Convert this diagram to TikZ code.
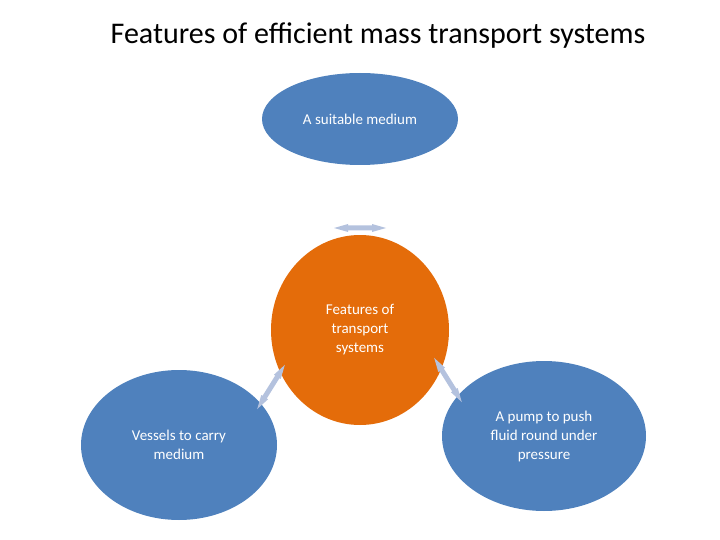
\documentclass[tikz,border=0pt]{standalone}
\usepackage{fontspec}
\setmainfont{Carlito}
\definecolor{bblue}{HTML}{4F81BD}
\definecolor{oorange}{HTML}{E46C0A}
\definecolor{aarrow}{HTML}{B4C2DE}
\begin{document}
\begin{tikzpicture}[x=1pt,y=-1pt,
  bub/.style={ellipse,fill=bblue,draw=white,line width=1pt,text=white,font=\fontsize{15}{19}\selectfont,align=center,inner sep=0pt},
  dbl/.pic={\fill[aarrow] (-26,0) -- (-12,-4) -- (-12,-2.5) -- (12,-2.5) -- (12,-4) -- (26,0) -- (12,4) -- (12,2.5) -- (-12,2.5) -- (-12,4) -- cycle;}]
\useasboundingbox (0,0) rectangle (720,540);
\usetikzlibrary{shapes.geometric}
\node (title) at (378,36) {\fontsize{30}{36}\selectfont Features of efficient mass transport systems};
\fill[bblue] (360,119) ellipse [x radius=98,y radius=46];
\node[text=white,font=\fontsize{15}{19}\selectfont] (top) at (360,119) {A suitable medium};
\fill[bblue] (179,445) ellipse [x radius=98,y radius=75];
\node[text=white,align=center,font=\fontsize{15}{19}\selectfont] (left) at (179,445) {Vessels to carry\\medium};
\fill[bblue] (544,436) ellipse [x radius=102,y radius=75];
\node[text=white,align=center,font=\fontsize{15}{19}\selectfont] (right) at (544,436) {A pump to push\\fluid round under\\pressure};
\fill[oorange] (360,330) ellipse [x radius=89,y radius=95];
\node[text=white,align=center,font=\fontsize{15}{19}\selectfont] (mid) at (360,330) {Features of\\transport\\systems};
\pic at (360,228) {dbl};
\pic[rotate=58] at (271,387) {dbl};
\pic[rotate=-58] at (448,380) {dbl};
\end{tikzpicture}
\end{document}
